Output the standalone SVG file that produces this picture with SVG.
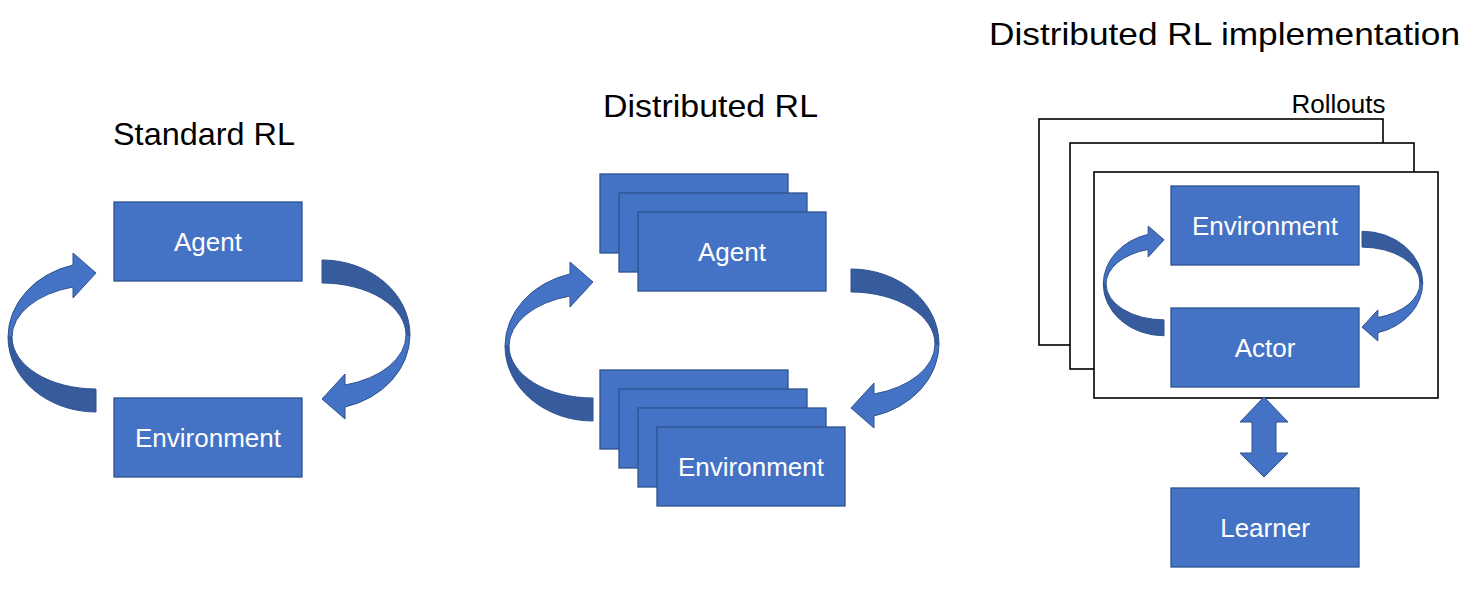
<svg xmlns="http://www.w3.org/2000/svg" width="1471" height="592" viewBox="0 0 1471 592">
<style>
.box{fill:#4472C4;stroke:#2F528F;stroke-width:1.3}
.lbl{font-family:"Liberation Sans",Arial,sans-serif;font-size:26px;fill:#FFFFFF;text-anchor:middle}
.title{font-family:"Liberation Sans",Arial,sans-serif;font-size:32px;fill:#000000;text-anchor:middle}
.frame{fill:#FFFFFF;stroke:#000000;stroke-width:1.6}
.lite{fill:#4472C4;stroke:#2F528F;stroke-width:1;vector-effect:non-scaling-stroke}
.dark{fill:#365C9E;stroke:#2F528F;stroke-width:1;vector-effect:non-scaling-stroke}
</style>
<defs>
<g id="curved">
<path class="dark" d="M0,75 A88,75 0 0 1 -88,0 L-84,0 A84,52 0 0 0 0,52 Z"/>
<path class="lite" d="M-88,0 A88,75 0 0 1 -23,-72 L-23,-84 L0,-64 L-23,-39 L-23,-50 A84,52 0 0 0 -84,0 Z"/>
</g>
</defs>
<rect width="1471" height="592" fill="#FFFFFF"/>

<text class="title" x="204" y="145" textLength="182" lengthAdjust="spacingAndGlyphs">Standard RL</text>
<text class="title" x="710.5" y="117" textLength="215" lengthAdjust="spacingAndGlyphs">Distributed RL</text>
<text class="title" x="1224.5" y="45" textLength="471" lengthAdjust="spacingAndGlyphs">Distributed RL implementation</text>

<g id="rollouts">
<rect class="frame" x="1039" y="119" width="344" height="226"/>
<rect class="frame" x="1070" y="143" width="344" height="226"/>
<rect class="frame" x="1094" y="172" width="344" height="226"/>
<text x="1338.5" y="113" font-family="Liberation Sans, Arial, sans-serif" font-size="26" fill="#000000" text-anchor="middle">Rollouts</text>
</g>

<g id="std-agent">
<rect class="box" x="114" y="202" width="188" height="79"/>
<text class="lbl" x="208" y="251">Agent</text>
</g>
<g id="std-environment">
<rect class="box" x="114" y="398" width="188" height="79"/>
<text class="lbl" x="208" y="447">Environment</text>
</g>

<g id="dist-agent">
<rect class="box" x="600" y="174" width="188" height="79"/>
<rect class="box" x="619" y="193" width="188" height="79"/>
<rect class="box" x="638" y="212" width="188" height="79"/>
<text class="lbl" x="732" y="261">Agent</text>
</g>
<g id="dist-environment">
<rect class="box" x="600" y="370" width="188" height="79"/>
<rect class="box" x="619" y="389" width="188" height="79"/>
<rect class="box" x="638" y="408" width="188" height="79"/>
<rect class="box" x="657" y="427" width="188" height="79"/>
<text class="lbl" x="751" y="476">Environment</text>
</g>

<g id="impl-environment">
<rect class="box" x="1171" y="186" width="188" height="79"/>
<text class="lbl" x="1265" y="235">Environment</text>
</g>
<g id="impl-actor">
<rect class="box" x="1171" y="308" width="188" height="79"/>
<text class="lbl" x="1265" y="357">Actor</text>
</g>
<g id="impl-learner">
<rect class="box" x="1171" y="488" width="188" height="79"/>
<text class="lbl" x="1265" y="537">Learner</text>
</g>

<g id="connectors">
<use href="#curved" transform="translate(96,337)"/>
<use href="#curved" transform="translate(322,335) rotate(180)"/>
<use href="#curved" transform="translate(593,346)"/>
<use href="#curved" transform="translate(851,344) rotate(180)"/>
<use href="#curved" transform="translate(1164,284) scale(0.69)"/>
<use href="#curved" transform="translate(1362,283) rotate(180) scale(0.69)"/>
<path class="lite" d="M1264,397 L1288,422 L1276,422 L1276,453 L1288,453 L1264,477 L1240,453 L1252,453 L1252,422 L1240,422 Z"/>
</g>
</svg>
